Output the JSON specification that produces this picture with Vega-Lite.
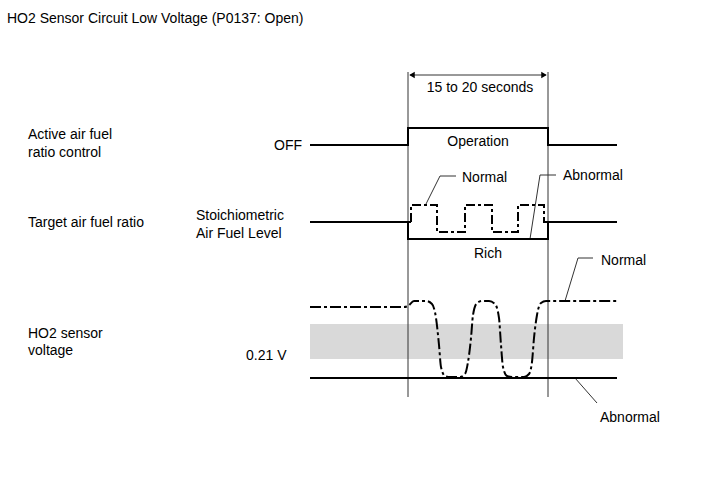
{
  "$schema": "https://vega.github.io/schema/vega-lite/v6.json",
  "width": 713,
  "height": 481,
  "autosize": {"type": "fit", "contains": "padding"},
  "padding": 0,
  "background": "white",
  "config": {"view": {"stroke": null}, "text": {"font": "Liberation Sans", "fontSize": 14, "color": "black", "dy": 1}},
  "datasets": {
    "band": [{"x": 310, "x2": 623, "y": 324, "y2": 359}],
    "solid": [
      {"id": "afc", "o": 1, "x": 310, "y": 145},
      {"id": "afc", "o": 2, "x": 408, "y": 145},
      {"id": "afc", "o": 3, "x": 408, "y": 128},
      {"id": "afc", "o": 4, "x": 548, "y": 128},
      {"id": "afc", "o": 5, "x": 548, "y": 145},
      {"id": "afc", "o": 6, "x": 617, "y": 145},
      {"id": "taf", "o": 1, "x": 310, "y": 222},
      {"id": "taf", "o": 2, "x": 411, "y": 222},
      {"id": "taf2", "o": 1, "x": 408, "y": 222},
      {"id": "taf2", "o": 2, "x": 408, "y": 239},
      {"id": "taf2", "o": 3, "x": 548, "y": 239},
      {"id": "taf2", "o": 4, "x": 548, "y": 222},
      {"id": "taf2", "o": 5, "x": 617, "y": 222},
      {"id": "ho2ab", "o": 1, "x": 310, "y": 378},
      {"id": "ho2ab", "o": 2, "x": 617, "y": 378}
    ],
    "thin": [
      {"id": "v1", "o": 1, "x": 408, "y": 72},
      {"id": "v1", "o": 2, "x": 408, "y": 397},
      {"id": "v2", "o": 1, "x": 548, "y": 72},
      {"id": "v2", "o": 2, "x": 548, "y": 397},
      {"id": "arr", "o": 1, "x": 410, "y": 75},
      {"id": "arr", "o": 2, "x": 546, "y": 75},
      {"id": "l1", "o": 1, "x": 426, "y": 204},
      {"id": "l1", "o": 2, "x": 440, "y": 176},
      {"id": "l1", "o": 3, "x": 456, "y": 176},
      {"id": "l2", "o": 1, "x": 530, "y": 239},
      {"id": "l2", "o": 2, "x": 540, "y": 175},
      {"id": "l2", "o": 3, "x": 556, "y": 175},
      {"id": "l3", "o": 1, "x": 565, "y": 301},
      {"id": "l3", "o": 2, "x": 578, "y": 258},
      {"id": "l3", "o": 3, "x": 593, "y": 258},
      {"id": "l4", "o": 1, "x": 575, "y": 378},
      {"id": "l4", "o": 2, "x": 597, "y": 403}
    ],
    "dashsq": [
      {"o": 1, "x": 411, "y": 222},
      {"o": 2, "x": 411, "y": 205},
      {"o": 3, "x": 437, "y": 205},
      {"o": 4, "x": 437, "y": 232},
      {"o": 5, "x": 465, "y": 232},
      {"o": 6, "x": 465, "y": 205},
      {"o": 7, "x": 492, "y": 205},
      {"o": 8, "x": 492, "y": 232},
      {"o": 9, "x": 518, "y": 232},
      {"o": 10, "x": 518, "y": 205},
      {"o": 11, "x": 544, "y": 205},
      {"o": 12, "x": 544, "y": 222},
      {"o": 13, "x": 548, "y": 222}
    ],
    "wave": [
      {"x": 310, "y": 307},
      {"x": 404, "y": 307},
      {"x": 408, "y": 306},
      {"x": 414, "y": 301},
      {"x": 426, "y": 301},
      {"x": 432, "y": 304},
      {"x": 436, "y": 318},
      {"x": 439, "y": 345},
      {"x": 441, "y": 367},
      {"x": 445, "y": 376},
      {"x": 450, "y": 377},
      {"x": 460, "y": 377},
      {"x": 465, "y": 374},
      {"x": 468, "y": 362},
      {"x": 471, "y": 338},
      {"x": 473, "y": 315},
      {"x": 477, "y": 303},
      {"x": 482, "y": 301},
      {"x": 489, "y": 301},
      {"x": 495, "y": 304},
      {"x": 499, "y": 318},
      {"x": 501, "y": 345},
      {"x": 503, "y": 367},
      {"x": 507, "y": 376},
      {"x": 512, "y": 377},
      {"x": 524, "y": 377},
      {"x": 529, "y": 374},
      {"x": 532, "y": 362},
      {"x": 534, "y": 338},
      {"x": 537, "y": 315},
      {"x": 541, "y": 303},
      {"x": 546, "y": 301},
      {"x": 617, "y": 301}
    ],
    "arrows": [
      {"x": 412, "y": 75, "dir": "triangle-left"},
      {"x": 544, "y": 75, "dir": "triangle-right"}
    ],
    "tleft": [
      {"t": "HO2 Sensor Circuit Low Voltage (P0137: Open)", "x": 7, "y": 18},
      {"t": "Active air fuel", "x": 28, "y": 134},
      {"t": "ratio control", "x": 28, "y": 152},
      {"t": "Target air fuel ratio", "x": 28, "y": 222},
      {"t": "HO2 sensor", "x": 28, "y": 333},
      {"t": "voltage", "x": 28, "y": 350},
      {"t": "Stoichiometric", "x": 196, "y": 215},
      {"t": "Air Fuel Level", "x": 196, "y": 233},
      {"t": "0.21 V", "x": 246, "y": 355},
      {"t": "Normal", "x": 462, "y": 177},
      {"t": "Abnormal", "x": 563, "y": 175},
      {"t": "Normal", "x": 601, "y": 260},
      {"t": "Abnormal", "x": 600, "y": 417}
    ],
    "tcenter": [
      {"t": "15 to 20 seconds", "x": 480, "y": 87},
      {"t": "Operation", "x": 478, "y": 141},
      {"t": "Rich", "x": 488, "y": 253}
    ],
    "tright": [
      {"t": "OFF", "x": 302, "y": 145}
    ]
  },
  "encoding": {
    "x": {"field": "x", "type": "quantitative", "scale": {"domain": [0, 713], "nice": false, "zero": false}, "axis": null},
    "y": {"field": "y", "type": "quantitative", "scale": {"domain": [0, 481], "nice": false, "zero": false, "reverse": true}, "axis": null}
  },
  "layer": [
    {
      "data": {"name": "band"},
      "mark": {"type": "rect", "color": "#d9d9d9"},
      "encoding": {"x2": {"field": "x2"}, "y2": {"field": "y2"}}
    },
    {
      "data": {"name": "thin"},
      "mark": {"type": "line", "color": "#333333", "strokeWidth": 1},
      "encoding": {"detail": {"field": "id"}, "order": {"field": "o"}}
    },
    {
      "data": {"name": "solid"},
      "mark": {"type": "line", "color": "black", "strokeWidth": 2, "strokeJoin": "miter", "strokeCap": "butt"},
      "encoding": {"detail": {"field": "id"}, "order": {"field": "o"}}
    },
    {
      "data": {"name": "dashsq"},
      "mark": {"type": "line", "color": "black", "strokeWidth": 2, "strokeDash": [9, 3, 3, 3], "strokeJoin": "miter"},
      "encoding": {"order": {"field": "o"}}
    },
    {
      "data": {"name": "wave"},
      "mark": {"type": "line", "color": "black", "strokeWidth": 2, "strokeDash": [11, 3, 3, 3], "interpolate": "monotone"},
      "encoding": {}
    },
    {
      "data": {"name": "arrows"},
      "mark": {"type": "point", "filled": true, "color": "black", "size": 40, "opacity": 1},
      "encoding": {"shape": {"field": "dir", "type": "nominal", "scale": null}}
    },
    {
      "data": {"name": "tleft"},
      "mark": {"type": "text", "align": "left", "baseline": "middle", "dy": 1},
      "encoding": {"text": {"field": "t"}}
    },
    {
      "data": {"name": "tcenter"},
      "mark": {"type": "text", "align": "center", "baseline": "middle", "dy": 1},
      "encoding": {"text": {"field": "t"}}
    },
    {
      "data": {"name": "tright"},
      "mark": {"type": "text", "align": "right", "baseline": "middle", "dy": 1},
      "encoding": {"text": {"field": "t"}}
    }
  ]
}
